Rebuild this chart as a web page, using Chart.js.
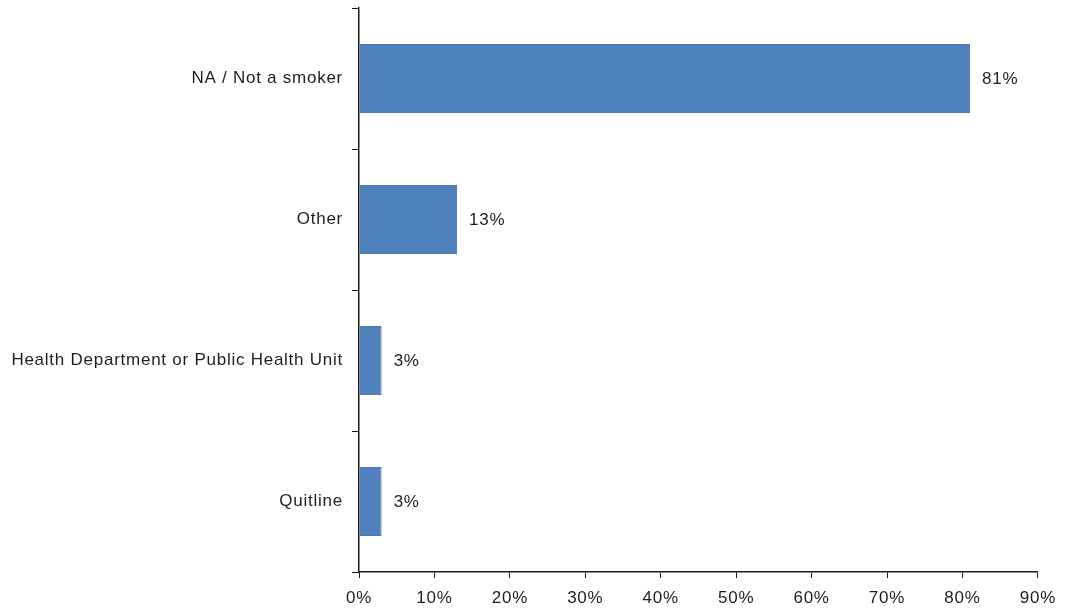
<!DOCTYPE html>
<html>
<head>
<meta charset="utf-8">
<script src="https://cdn.jsdelivr.net/npm/chart.js@4.4.0/dist/chart.umd.min.js"></script>
<style>
  html, body { margin: 0; padding: 0; background: #fff; }
  #wrap { width: 1066px; height: 611px; }
</style>
</head>
<body>
<div id="wrap"><canvas id="chart"></canvas></div>
<script>
const categories = ['NA / Not a smoker', 'Other', 'Health Department or Public Health Unit', 'Quitline'];
const values = [81, 13, 3, 3];
const xTicks = [0, 10, 20, 30, 40, 50, 60, 70, 80, 90];

const barColor = '#4f81bd';
const textColor = '#1e1e1e';
const axisColor = '#1a1a1a';
const fontFamily = '"Liberation Sans", Arial, sans-serif';
const spacing = '0.75px';

// the original text is a little wider than canvas text, so add letter spacing
const wideText = {
    id: 'wideText',
    beforeLayout(chart) { chart.ctx.letterSpacing = spacing; },
    beforeDraw(chart) { chart.ctx.letterSpacing = spacing; }
};

// labels next to the end of each bar
const valueLabels = {
    id: 'valueLabels',
    afterDatasetsDraw(chart) {
        const ctx = chart.ctx;
        const meta = chart.getDatasetMeta(0);
        ctx.save();
        ctx.letterSpacing = spacing;
        ctx.font = '17px ' + fontFamily;
        ctx.fillStyle = textColor;
        ctx.textAlign = 'left';
        ctx.textBaseline = 'middle';
        meta.data.forEach(function (bar, i) {
            ctx.fillText(values[i] + '%', bar.x + 12, bar.y + 1);
        });
        ctx.restore();
    }
};

new Chart(document.getElementById('chart'), {
    type: 'bar',
    data: {
        labels: categories,
        datasets: [{
            data: values,
            backgroundColor: barColor,
            borderColor: '#4a7ab3',
            borderWidth: 1,
            categoryPercentage: 0.49,
            barPercentage: 1
        }]
    },
    options: {
        indexAxis: 'y',
        responsive: true,
        maintainAspectRatio: false,
        animation: false,
        layout: { padding: { top: 8, right: 26, left: 0, bottom: 0 } },
        plugins: {
            legend: { display: false },
            tooltip: { enabled: false }
        },
        scales: {
            x: {
                min: 0,
                max: 90,
                afterBuildTicks: function (scale) {
                    scale.ticks = xTicks.map(v => ({ value: v }));
                },
                afterFit: function (scale) { scale.height = 39; },
                grid: {
                    display: true,
                    drawOnChartArea: false,
                    drawTicks: true,
                    tickLength: 6,
                    color: axisColor
                },
                border: { display: true, color: axisColor, width: 1.5 },
                ticks: {
                    padding: 10,
                    maxRotation: 0,
                    color: textColor,
                    font: { family: fontFamily, size: 17 },
                    callback: function (val) { return val + '%'; }
                }
            },
            y: {
                afterFit: function (scale) {
                    scale.width = 359;
                    scale.paddingTop = 0;
                    scale.paddingBottom = 0;
                },
                grid: {
                    display: true,
                    offset: true,
                    drawOnChartArea: false,
                    drawTicks: true,
                    tickLength: 7,
                    color: axisColor
                },
                border: { display: true, color: axisColor, width: 1.5 },
                ticks: {
                    padding: 9,
                    color: textColor,
                    font: { family: fontFamily, size: 17 }
                }
            }
        }
    },
    plugins: [wideText, valueLabels]
});
</script>
</body>
</html>
